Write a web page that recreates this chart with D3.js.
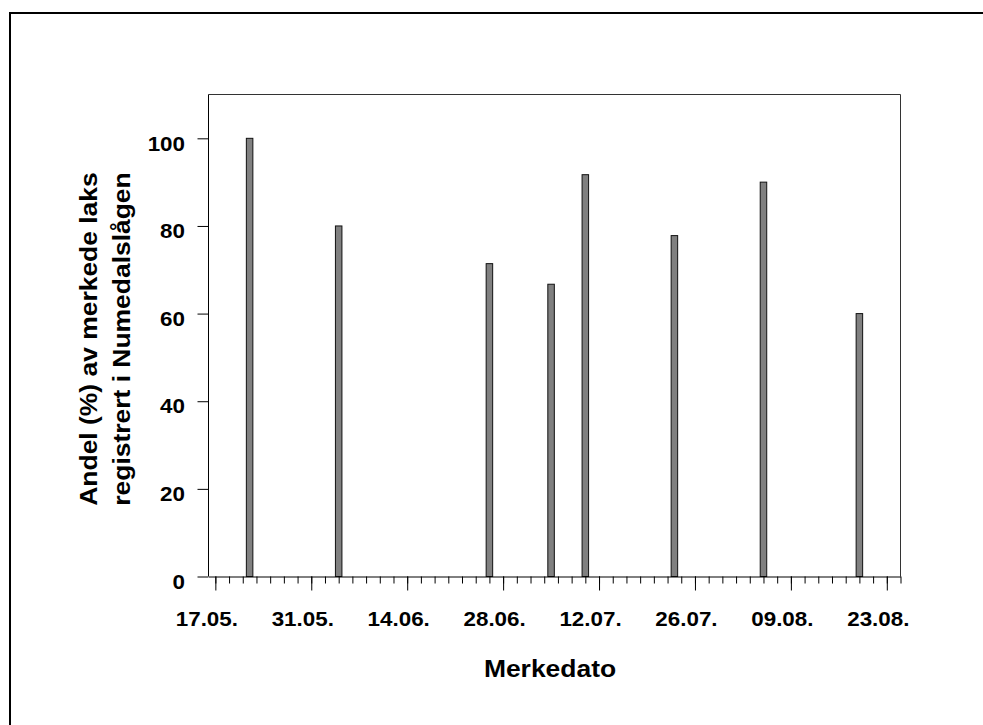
<!DOCTYPE html>
<html lang="no">
<head>
    <meta charset="UTF-8">
    <title>Merkedato</title>
    <style>
        body { margin: 0; background: #fff; }
        text { font-family: "Liberation Sans", Arial, sans-serif; font-weight: bold; fill: #000; }
    </style>
</head>
<body>
<script src="https://d3js.org/d3.v7.min.js"></script>
<script>
    // merkedato (dd.mm) og andel registrert i Numedalslågen
    var datoer = ["22.05", "04.06", "26.06", "05.07", "10.07", "23.07", "05.08", "19.08"];
    var andel = [100, 80, 71.4, 66.7, 91.7, 77.8, 90, 60];
    var tickLabels = ["17.05.", "31.05.", "14.06.", "28.06.", "12.07.", "26.07.", "09.08.", "23.08."];
    var yTicks = [0, 20, 40, 60, 80, 100];
    var aar = 2003;

    var parse = function(s) {
        var p = s.split(".");
        return new Date(Date.UTC(aar, +p[1] - 1, +p[0]));
    };

    var W = 983, H = 725;
    var pLeft = 208.5, pRight = 900.5, pTop = 94.5, pBottom = 576.5;

    var svg = d3.select("body")
        .append("svg")
        .attr("width", W)
        .attr("height", H);

    // ytre ramme
    svg.append("rect")
        .attr("x", 10).attr("y", 13)
        .attr("width", 1000).attr("height", 800)
        .attr("fill", "none")
        .attr("stroke", "#000")
        .attr("stroke-width", 2);

    var x = d3.scaleUtc()
        .domain([parse("16.05"), parse("25.08")])
        .range([pLeft, pRight]);

    var y = d3.scaleLinear()
        .domain([0, 110])
        .range([pBottom, pTop]);

    // plottramme (topp og høyre)
    svg.append("path")
        .attr("d", "M" + pLeft + "," + pTop + "H" + pRight + "V" + pBottom)
        .attr("fill", "none")
        .attr("stroke", "#333")
        .attr("stroke-width", 1);

    // søyler
    var dag = x(parse("17.05")) - x(parse("16.05"));
    var bw = dag * 0.95;
    svg.selectAll("rect.bar")
        .data(datoer)
        .enter()
        .append("rect")
        .attr("class", "bar")
        .attr("x", function(d) { return x(parse(d)) - bw / 2; })
        .attr("y", function(d, i) { return y(andel[i]); })
        .attr("width", bw)
        .attr("height", function(d, i) { return y(0) - y(andel[i]); })
        .attr("fill", "#808080")
        .attr("stroke", "#111")
        .attr("stroke-width", 1);

    // x-akse: hovedmerker hver 14. dag, små merker hver 2. dag
    var majors = tickLabels.map(function(s) { return parse(s.slice(0, 5)); });
    var minors = d3.utcDay.range(parse("17.05"), parse("26.08"))
        .filter(function(d) { return d3.utcDay.count(parse("17.05"), d) % 2 === 0; });

    var xAxisMinor = d3.axisBottom(x)
        .tickValues(minors)
        .tickSize(7)
        .tickFormat("")
        .tickSizeOuter(0);

    svg.append("g")
        .attr("transform", "translate(0," + pBottom + ")")
        .call(xAxisMinor)
        .call(function(g) { g.select(".domain").attr("stroke", "#000"); });

    var xAxis = d3.axisBottom(x)
        .tickValues(majors)
        .tickSize(14)
        .tickSizeOuter(0)
        .tickFormat(function(d, i) { return tickLabels[i]; });

    var gx = svg.append("g")
        .attr("transform", "translate(0," + pBottom + ")")
        .call(xAxis);
    gx.select(".domain").remove();
    gx.selectAll("text")
        .attr("y", 0)
        .attr("dy", 0)
        .attr("transform", "translate(-9,49.5) scale(1.12,1)")
        .attr("font-size", 20)
        .style("font-family", null);

    // y-akse
    var yAxis = d3.axisLeft(y)
        .tickValues(yTicks)
        .tickSize(11)
        .tickSizeOuter(0);

    var gy = svg.append("g")
        .attr("transform", "translate(" + pLeft + ",0)")
        .call(yAxis);
    gy.select(".domain")
        .attr("d", "M0," + pBottom + "V" + pTop)
        .attr("stroke", "#000");
    gy.selectAll(".tick text")
        .attr("x", 0)
        .attr("dy", 0)
        .attr("transform", "translate(-23.5,11.7) scale(1.12,1)")
        .attr("font-size", 20)
        .style("font-family", null);

    // aksetitler
    svg.append("text")
        .attr("transform", "translate(550,677.3) scale(1.15,1)")
        .attr("text-anchor", "middle")
        .attr("font-size", 23)
        .text("Merkedato");

    var ytitle = svg.append("g")
        .attr("transform", "translate(0,339) rotate(-90)");
    ytitle.append("text")
        .attr("transform", "translate(0,96.5) scale(1.15,1)")
        .attr("text-anchor", "middle")
        .attr("font-size", 23)
        .text("Andel (%) av merkede laks");
    ytitle.append("text")
        .attr("transform", "translate(0,129.5) scale(1.15,1)")
        .attr("text-anchor", "middle")
        .attr("font-size", 23)
        .text("registrert i Numedalslågen");
</script>
</body>
</html>
